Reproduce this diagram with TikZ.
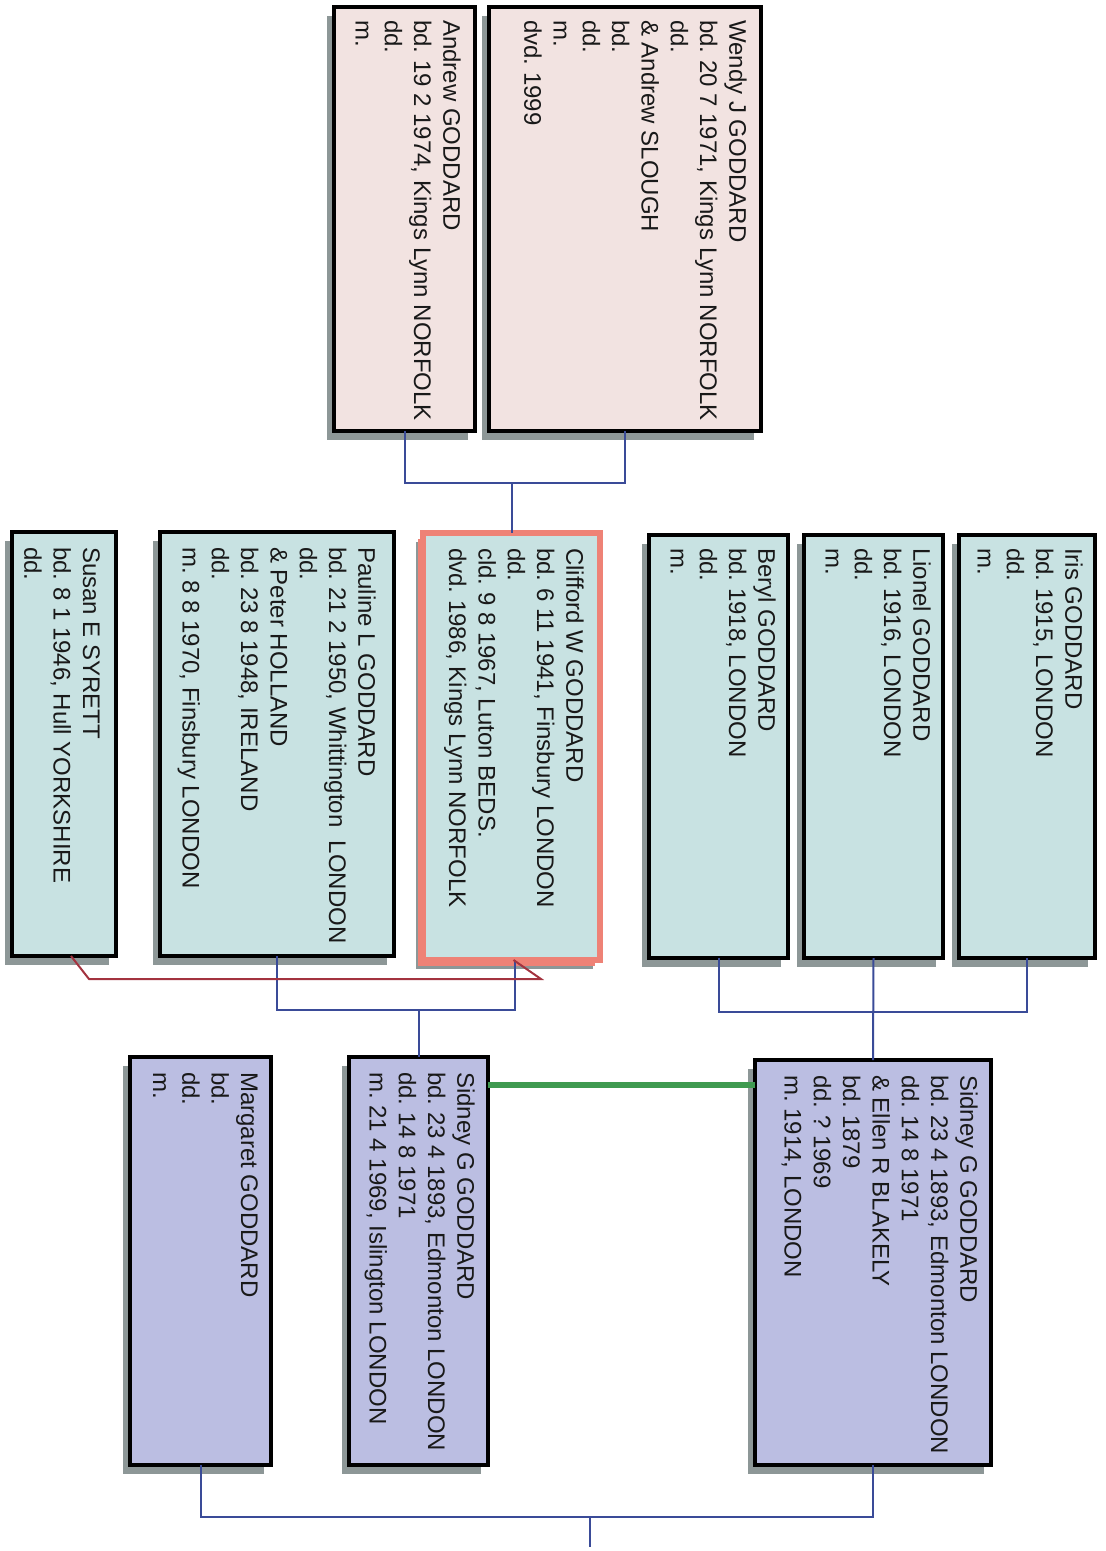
\documentclass[tikz,border=0pt]{standalone}
\usepackage{fontspec}
\setmainfont{Liberation Sans}
\usepackage{tikz}
\usetikzlibrary{shadows}
\frenchspacing

\definecolor{pinkbox}{HTML}{F2E3E1}
\definecolor{tealbox}{HTML}{C8E2E2}
\definecolor{lilacbox}{HTML}{BBBEE2}
\definecolor{shadowgrey}{HTML}{8D9797}
\definecolor{salmon}{HTML}{EE8276}
\definecolor{linkblue}{HTML}{3A4B98}
\definecolor{divred}{HTML}{A3333F}
\definecolor{wedgreen}{HTML}{3F9A50}

\begin{document}
\begin{tikzpicture}[x=1pt, y=-1pt,
	person/.style={draw=black, line width=4pt, inner sep=0pt, outer sep=0pt,
		drop shadow={shadow xshift=-7pt, shadow yshift=-9pt, fill=shadowgrey, opacity=1}},
	txt/.style={rotate=-90, anchor=north west, align=left, inner sep=0pt,
		text=black!90, font=\fontsize{24}{29.3}\selectfont},
	link/.style={draw=linkblue, line width=2pt},
	divorce/.style={draw=divred, line width=2pt},
	wedding/.style={draw=wedgreen, line width=6pt}]
	\useasboundingbox (0,0) rectangle (1106,1551);
	% top row
	\node[person, fill=pinkbox, minimum width=272pt, minimum height=424pt] (wendy) at (625,219) {};
	\node[txt] (wendy-t) at ([shift={(-14,13)}]wendy.north east) {Wendy J GODDARD\\bd. 20 7 1971, Kings Lynn NORFOLK\\dd.\\\& Andrew SLOUGH\\bd.\\dd.\\m.\\dvd. 1999};
	\node[person, fill=pinkbox, minimum width=141pt, minimum height=424pt] (andrew) at (404.5,219) {};
	\node[txt] (andrew-t) at ([shift={(-14,13)}]andrew.north east) {Andrew GODDARD\\bd. 19 2 1974, Kings Lynn NORFOLK\\dd.\\m.};
	% middle row
	\node[person, draw=salmon, line width=6pt, fill=tealbox, minimum width=177pt, minimum height=427pt,
		drop shadow={shadow xshift=-5pt, shadow yshift=-6pt, fill=salmon, opacity=1}] (cliff) at (511.5,746.5) {};
	\node[txt] (cliff-t) at ([shift={(-16,15)}]cliff.north east) {Clifford W GODDARD\\bd. 6 11 1941, Finsbury LONDON\\dd.\\cld. 9 8 1967, Luton BEDS.\\dvd. 1986, Kings Lynn NORFOLK};
	\node[person, fill=tealbox, minimum width=234pt, minimum height=424pt] (paul) at (277,744) {};
	\node[txt] (paul-t) at ([shift={(-18,15)}]paul.north east) {Pauline L GODDARD\\bd. 21 2 1950, Whittington\ \ LONDON\\dd.\\\& Peter HOLLAND\\bd. 23 8 1948, IRELAND\\dd.\\m. 8 8 1970, Finsbury LONDON};
	\node[person, fill=tealbox, minimum width=104pt, minimum height=424pt] (susan) at (64,744) {};
	\node[txt] (susan-t) at ([shift={(-16,15)}]susan.north east) {Susan E SYRETT\\bd. 8 1 1946, Hull YORKSHIRE\\dd.};
	\node[person, fill=tealbox, minimum width=139pt, minimum height=423pt] (beryl) at (718.5,746.5) {};
	\node[txt] (beryl-t) at ([shift={(-12,13)}]beryl.north east) {Beryl GODDARD\\bd. 1918, LONDON\\dd.\\m.};
	\node[person, fill=tealbox, minimum width=139pt, minimum height=423pt] (lionel) at (873.5,746.5) {};
	\node[txt] (lionel-t) at ([shift={(-12,13)}]lionel.north east) {Lionel GODDARD\\bd. 1916, LONDON\\dd.\\m.};
	\node[person, fill=tealbox, minimum width=136pt, minimum height=423pt] (iris) at (1027,746.5) {};
	\node[txt] (iris-t) at ([shift={(-12,13)}]iris.north east) {Iris GODDARD\\bd. 1915, LONDON\\dd.\\m.};
	% bottom row
	\node[person, fill=lilacbox, minimum width=141pt, minimum height=408pt] (marg) at (200.5,1261) {};
	\node[txt] (marg-t) at ([shift={(-13,15)}]marg.north east) {Margaret GODDARD\\bd.\\dd.\\m.};
	\node[person, fill=lilacbox, minimum width=139pt, minimum height=408pt] (sidb) at (418.5,1261) {};
	\node[txt] (sidb-t) at ([shift={(-13,15)}]sidb.north east) {Sidney G GODDARD\\bd. 23 4 1893, Edmonton LONDON\\dd. 14 8 1971\\m. 21 4 1969, Islington LONDON};
	\node[person, fill=lilacbox, minimum width=236pt, minimum height=405pt] (sida) at (873,1262.5) {};
	\node[txt] (sida-t) at ([shift={(-13,15)}]sida.north east) {Sidney G GODDARD\\bd. 23 4 1893, Edmonton LONDON\\dd. 14 8 1971\\\& Ellen R BLAKELY\\bd. 1879\\dd. ? 1969\\m. 1914, LONDON};
	% lines
	\coordinate (ca) at (cliff.north |- 0,483);
	\draw[link] (andrew.south) |- (ca) -| (wendy.south);
	\draw[link] (ca) -- (cliff.north);
	\coordinate (cb) at (sidb.north |- 0,1010);
	\draw[link] (paul.south) |- (cb) -| ([xshift=3pt]cliff.south);
	\draw[link] (cb) -- (sidb.north);
	\draw[divorce] ([xshift=7pt]susan.south) -- ++(18,23) -- ++(452,0) -- ([xshift=2pt]cliff.south);
	\coordinate (cc) at (sida.north |- 0,1012);
	\draw[link] (beryl.south) |- (cc) -| (iris.south);
	\draw[link] (lionel.south) -- (sida.north);
	\draw[wedding] ([yshift=-28pt]sidb.north east) -- ([yshift=-25pt]sida.north west);
	\coordinate (root) at (590,1517);
	\draw[link] (marg.south) |- (root) -| (sida.south);
	\draw[link] (root) -- ++(0,30);
\end{tikzpicture}
\end{document}
